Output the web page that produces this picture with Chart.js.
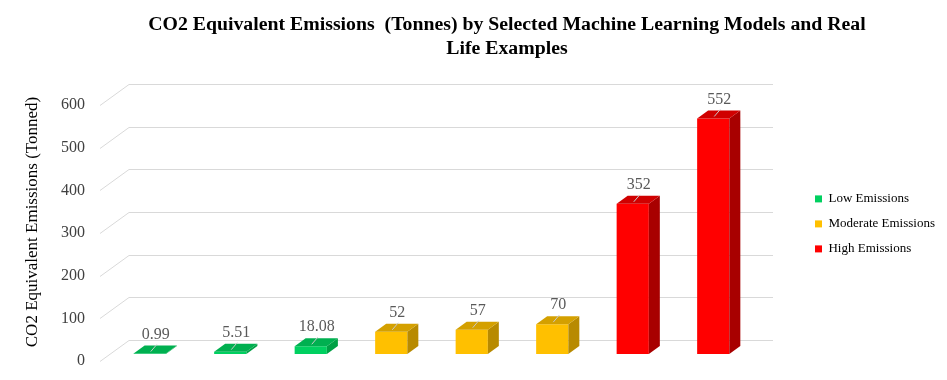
<!DOCTYPE html>
<html><head><meta charset="utf-8">
<script src="https://cdn.jsdelivr.net/npm/chart.js@4"></script>
<style>html,body{margin:0;padding:0;background:#fff}canvas{display:block}</style>
</head><body>
<canvas id="c" width="947" height="380"></canvas>
<script>
// ---- data ----
const categories = ['Example 1','Example 2','Example 3','Example 4','Example 5','Example 6','Example 7','Example 8'];
const lowEmissions = [0.99, 5.51, 18.08, null, null, null, null, null];
const moderateEmissions = [null, null, null, 52, 57, 70, null, null];
const highEmissions = [null, null, null, null, null, null, 352, 552];
const yTickValues = [0, 100, 200, 300, 400, 500, 600];
const seriesNames = ['Low Emissions', 'Moderate Emissions', 'High Emissions'];
const titleLines = ['CO2 Equivalent Emissions  (Tonnes) by Selected Machine Learning Models and Real', 'Life Examples'];
const yAxisTitle = 'CO2 Equivalent Emissions (Tonned)';

// ---- style ----
const SERIF = "'Liberation Serif', 'DejaVu Serif', serif";
const WALL_X = 29, WALL_Y = -21;   // depth of the back wall
const BAR_X = 9.5, BAR_Y = -7;     // bar plane offset from the front plane
const DEP_X = 11, DEP_Y = -8;      // depth of each bar
const faces = [
  {front: '#00D060', top: '#00B050', side: '#00A045'},
  {front: '#FFC000', top: '#D4A000', side: '#B88A00'},
  {front: '#FF0000', top: '#D00000', side: '#A80000'}
];

const threeD = {
  id: 'threeD',
  beforeDatasetsDraw(chart) {
    const {ctx, chartArea: a, scales: {y}} = chart;
    ctx.save();
    ctx.strokeStyle = '#d9d9d9';
    ctx.lineWidth = 1;
    yTickValues.forEach(v => {
      const py = Math.round(y.getPixelForValue(v)) + 0.5;
      ctx.beginPath();
      ctx.moveTo(a.left, py);
      ctx.lineTo(a.left + WALL_X, py + WALL_Y);
      ctx.lineTo(a.right + WALL_X, py + WALL_Y);
      ctx.stroke();
    });
    ctx.restore();
    ctx.save();
    ctx.translate(BAR_X, BAR_Y);
  },
  afterDatasetsDraw(chart) {
    const ctx = chart.ctx;
    chart.data.datasets.forEach((ds, i) => {
      const meta = chart.getDatasetMeta(i);
      const f = faces[i];
      meta.data.forEach((bar, j) => {
        const v = ds.data[j];
        if (v == null) return;
        const {x, y, base, width} = bar.getProps(['x', 'y', 'base', 'width'], true);
        const l = x - width / 2, r = x + width / 2;
        ctx.fillStyle = f.side;
        ctx.beginPath();
        ctx.moveTo(r, y); ctx.lineTo(r + DEP_X, y + DEP_Y);
        ctx.lineTo(r + DEP_X, base + DEP_Y); ctx.lineTo(r, base);
        ctx.closePath(); ctx.fill();
        ctx.fillStyle = f.top;
        ctx.beginPath();
        ctx.moveTo(l, y); ctx.lineTo(l + DEP_X, y + DEP_Y);
        ctx.lineTo(r + DEP_X, y + DEP_Y); ctx.lineTo(r, y);
        ctx.closePath(); ctx.fill();
        ctx.strokeStyle = '#c8c8c8';
        ctx.lineWidth = 1;
        ctx.beginPath();
        ctx.moveTo(x + 7, y - 9); ctx.lineTo(x + 1, y - 2);
        ctx.stroke();
        ctx.fillStyle = '#595959';
        ctx.font = "16px " + SERIF;
        ctx.textAlign = 'center';
        ctx.textBaseline = 'middle';
        ctx.fillText(String(v), x + 6, y - 19);
      });
    });
    ctx.restore();
  },
  afterDraw(chart) {
    const ctx = chart.ctx;
    ctx.save();
    ctx.fillStyle = '#000';
    ctx.font = "bold 19.8px " + SERIF;
    ctx.textAlign = 'center';
    ctx.textBaseline = 'middle';
    titleLines.forEach((t, k) => ctx.fillText(t, 507, 25 + k * 23.5));
    ctx.translate(33, 222);
    ctx.rotate(-Math.PI / 2);
    ctx.font = "17px " + SERIF;
    ctx.fillText(yAxisTitle, 0, 0);
    ctx.restore();
  }
};

const mk = (label, data, i) => ({
  label, data,
  backgroundColor: faces[i].front,
  borderWidth: 0,
  grouped: false,
  barPercentage: 0.4,
  categoryPercentage: 1
});

new Chart(document.getElementById('c'), {
  type: 'bar',
  data: {
    labels: categories,
    datasets: [
      mk(seriesNames[0], lowEmissions, 0),
      mk(seriesNames[1], moderateEmissions, 1),
      mk(seriesNames[2], highEmissions, 2)
    ]
  },
  plugins: [threeD],
  options: {
    responsive: false,
    animation: false,
    layout: {padding: {left: 18, right: 2, top: 105, bottom: 19}},
    plugins: {
      tooltip: {enabled: false},
      title: {display: false},
      legend: {
        position: 'right',
        align: 'start',
        title: {display: true, text: ' ', font: {size: 12}, padding: {top: 33, bottom: 28}},
        labels: {
          boxWidth: 7, boxHeight: 7, padding: 12,
          color: '#000',
          font: {family: SERIF, size: 13}
        }
      }
    },
    scales: {
      x: {display: false, grid: {display: false}},
      y: {
        min: 0, max: 600,
        afterBuildTicks(s) { s.ticks = yTickValues.map(v => ({value: v})); },
        afterFit(s) { s.width = 82; s.paddingTop = 0; s.paddingBottom = 0; },
        grid: {display: false, drawTicks: false},
        border: {display: false},
        ticks: {color: '#404040', font: {family: SERIF, size: 16}, padding: 15},
        title: {display: false}
      },
      y2: {
        position: 'right',
        display: true,
        afterFit(s) { s.width = 59; },
        grid: {display: false},
        border: {display: false},
        ticks: {display: false}
      }
    }
  }
});
</script>
</body></html>
